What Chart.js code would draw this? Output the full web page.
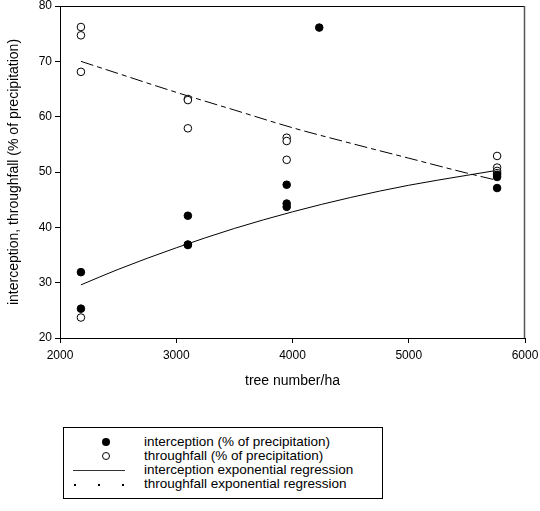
<!DOCTYPE html>
<html><head><meta charset="utf-8">
<script src="https://cdn.jsdelivr.net/npm/chart.js@4"></script>
<style>
body{margin:0;background:#fff;font-family:"Liberation Sans",Arial,sans-serif;}
#wrap{position:relative;width:540px;height:511px;background:#fff;}
#c{position:absolute;left:0;top:0;}
#legend{position:absolute;left:63px;top:427px;width:320px;height:72px;border:1px solid #000;box-sizing:border-box;font-size:13.5px;color:#000;}
.row{position:absolute;left:0;width:100%;height:14px;line-height:14px;}
.txt{position:absolute;left:80px;top:0;white-space:nowrap;}
.dot{position:absolute;left:38px;top:3px;width:8px;height:8px;border-radius:50%;background:#000;box-sizing:border-box;}
.odot{position:absolute;left:38px;top:3px;width:8px;height:8px;border-radius:50%;background:#fff;border:1px solid #000;box-sizing:border-box;}
.ln{position:absolute;left:9px;top:7px;width:52px;height:0;border-top:1px solid #333;}
.dd{position:absolute;top:7px;width:2px;height:2px;background:#000;}
</style></head>
<body>
<div id="wrap">
<canvas id="c" width="540" height="400"></canvas>
<div id="legend">
 <div class="row" style="top:7px"><span class="dot"></span><span class="txt">interception (% of precipitation)</span></div>
 <div class="row" style="top:21px"><span class="odot"></span><span class="txt">throughfall (% of precipitation)</span></div>
 <div class="row" style="top:35px"><span class="ln"></span><span class="txt">interception exponential regression</span></div>
 <div class="row" style="top:49px"><span class="dd" style="left:10px"></span><span class="dd" style="left:34px"></span><span class="dd" style="left:58px"></span><span class="txt">throughfall exponential regression</span></div>
</div>
</div>
<script>
// observed data
const interceptionX = [2180, 2180, 3100, 3100, 3100, 3950, 3950, 3950, 4230, 5760, 5760, 5760];
const interceptionY = [31.9, 25.3, 42.1, 36.9, 36.8, 47.7, 44.3, 43.7, 76.1, 49.5, 49.1, 47.1];
const throughfallX = [2180, 2180, 2180, 2180, 3100, 3100, 3100, 3950, 3950, 3950, 5760, 5760, 5760, 5760];
const throughfallY = [76.2, 74.7, 68.1, 23.7, 63.2, 63.0, 57.9, 56.2, 55.6, 52.2, 52.9, 50.8, 50.2, 49.8];
// regression curves
const regX = [2180, 2500, 3000, 3500, 4000, 4500, 5000, 5500, 5760];
const interceptionReg = [29.6, 32.4, 36.3, 39.8, 42.8, 45.4, 47.6, 49.4, 50.3];
const throughfallReg = [70.0, 67.8, 64.4, 61.2, 58.0, 55.2, 52.5, 49.8, 48.5];
// axes
const xTicks = [2000, 3000, 4000, 5000, 6000];
const yTicks = [20, 30, 40, 50, 60, 70, 80];

const pts = (xs, ys) => xs.map((x, i) => ({x: x, y: ys[i]}));
const FONT = '"Liberation Sans", Arial, sans-serif';

const frame = {
  id: 'frame',
  afterDraw(chart) {
    const {ctx, chartArea: a} = chart;
    ctx.save();
    ctx.strokeStyle = '#000';
    ctx.lineWidth = 1;
    ctx.beginPath();
    ctx.moveTo(a.left, a.top + 0.5); ctx.lineTo(a.right, a.top + 0.5);
    ctx.stroke();
    ctx.strokeStyle = '#555';
    ctx.lineWidth = 1.5;
    ctx.beginPath();
    ctx.moveTo(a.right - 0.5, a.top); ctx.lineTo(a.right - 0.5, a.bottom);
    ctx.stroke();
    ctx.restore();
  }
};

new Chart(document.getElementById('c'), {
  type: 'scatter',
  data: {
    datasets: [
      {type: 'line', data: pts(regX, interceptionReg), borderColor: '#000', borderWidth: 1, pointRadius: 0, cubicInterpolationMode: 'monotone', fill: false, order: 3},
      {type: 'line', data: pts(regX, throughfallReg), borderColor: '#000', borderWidth: 1, borderDash: [13, 4, 5, 4], pointRadius: 0, cubicInterpolationMode: 'monotone', fill: false, order: 4},
      {data: pts(throughfallX, throughfallY), pointRadius: 3.8, pointBackgroundColor: '#fff', pointBorderColor: '#000', pointBorderWidth: 1, order: 2},
      {data: pts(interceptionX, interceptionY), pointRadius: 3.8, pointBackgroundColor: '#000', pointBorderColor: '#000', pointBorderWidth: 1, order: 1}
    ]
  },
  options: {
    responsive: false,
    animation: false,
    events: [],
    layout: {padding: {top: 6, right: 15, left: 0, bottom: 0}},
    plugins: {legend: {display: false}, tooltip: {enabled: false}},
    scales: {
      x: {
        type: 'linear', min: 2000, max: 6000,
        afterBuildTicks: s => { s.ticks = xTicks.map(v => ({value: v})); },
        afterFit: s => { s.height = 62; s.paddingLeft = 0; s.paddingRight = 0; },
        border: {display: true, color: '#000', width: 1},
        grid: {display: true, drawOnChartArea: false, drawTicks: true, tickLength: 5, color: '#000'},
        ticks: {color: '#000', font: {family: FONT, size: 12}, padding: 5, maxRotation: 0, callback: v => String(v)},
        title: {display: true, text: 'tree number/ha', color: '#000', font: {family: FONT, size: 14}, padding: {top: 0, bottom: 10}}
      },
      y: {
        type: 'linear', min: 20, max: 80,
        afterBuildTicks: s => { s.ticks = yTicks.map(v => ({value: v})); },
        afterFit: s => { s.width = 60; s.paddingTop = 6; s.paddingBottom = 0; },
        border: {display: true, color: '#000', width: 1},
        grid: {display: true, drawOnChartArea: false, drawTicks: true, tickLength: 5, color: '#000'},
        ticks: {color: '#000', font: {family: FONT, size: 12}, padding: 3, callback: v => String(v)},
        title: {display: true, text: 'interception, throughfall (% of precipitation)', color: '#000', font: {family: FONT, size: 14}, padding: {top: 6, bottom: 0}}
      }
    }
  },
  plugins: [frame]
});
</script>
</body></html>
